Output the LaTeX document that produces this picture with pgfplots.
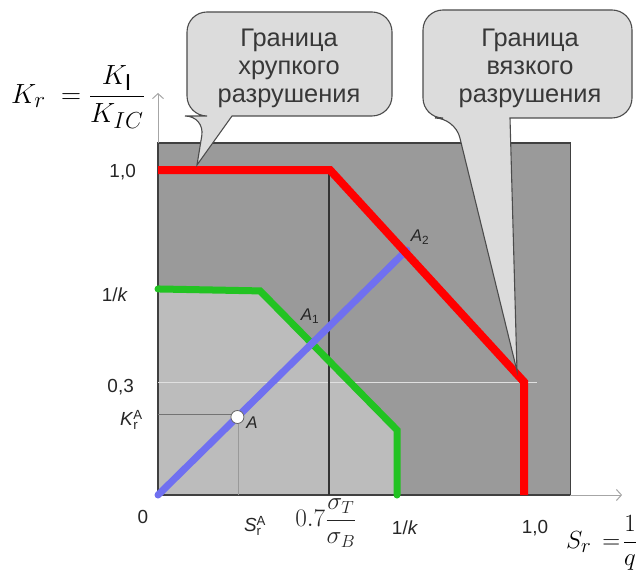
\documentclass[border=0pt]{standalone}
\usepackage{pgfplots}
\pgfplotsset{compat=1.18}
\usepackage{amsmath}
\usepackage{fontspec}
\setmainfont{Liberation Sans}
\usetikzlibrary{arrows.meta}

\definecolor{boxgray}{HTML}{9A9A9A}
\definecolor{safegray}{HTML}{BCBCBC}
\definecolor{calloutgray}{HTML}{DCDCDC}
\definecolor{redline}{HTML}{FF0000}
\definecolor{greenline}{HTML}{22C322}
\definecolor{blueline}{HTML}{7070F0}
\definecolor{textgray}{HTML}{262626}

\begin{document}
\begin{tikzpicture}
\begin{axis}[
    x=366bp, y=325bp,
    xmin=-0.4317, xmax=1.3087,
    ymin=-0.2492, ymax=1.5231,
    hide axis,
    clip=false,
]
% whole field
\addplot[draw=none, fill=boxgray] coordinates {(0,0) (0,1.083) (1.126,1.083) (1.126,0)} -- cycle;
% safe region under the green curve
\addplot[draw=none, fill=safegray] coordinates {(0,0) (0,0.634) (0.279,0.628) (0.653,0.2) (0.653,0)} -- cycle;
\addplot[draw=black!75, line width=1.2bp] coordinates {(0,0) (0,1.083) (1.126,1.083) (1.126,0)} -- cycle;

% level 0,3 and 0.7 sigma_T/sigma_B
\addplot[color=white!88!black, line width=1.2bp] coordinates {(0,0.345) (1.035,0.345)};
\addplot[color=black!80, line width=1.2bp] coordinates {(0.467,0) (0.467,1)};

% guides to point A
\addplot[color=black!55, line width=1bp] coordinates {(0,0.247) (0.217,0.247)};
\addplot[color=black!40, line width=1bp] coordinates {(0.219,0) (0.219,0.24)};

% axis arrows
\addplot[color=black!35, line width=1bp, -{Straight Barb[length=5bp,width=11bp]}] coordinates {(0,1.083) (0,1.237)};
\addplot[color=black!35, line width=1bp, -{Straight Barb[length=5bp,width=11bp]}] coordinates {(1.126,0) (1.268,0)};

% curves
\addplot[color=greenline, line width=7bp, line cap=round] coordinates {(0,0.634) (0.279,0.628) (0.653,0.2) (0.653,0)};
\addplot[color=blueline, line width=7bp, line cap=round] coordinates {(0,0) (0.680,0.754)};
\addplot[color=redline, line width=8bp] coordinates {(0,1) (0.470,1) (1.0,0.348) (1.0,0)};

% point A
\addplot[only marks, mark=*, mark size=6.5bp, mark options={fill=white, draw=black!60, line width=0.8bp}] coordinates {(0.217,0.24)};

\coordinate (tl) at (axis cs:-0.4317,1.5231);
\coordinate (br) at (axis cs:1.3087,-0.2492);
\end{axis}

\begin{scope}[shift={(tl)}, x=1bp, y=-1bp]
  % callouts
  \draw[fill=calloutgray, draw=black!70, line width=1.1bp]
    (232,116) [rounded corners=20bp] -- (392,116) -- (392,12) -- (187,12) -- (187,116) -- (205,116) [sharp corners] -- (197,165) -- cycle;
  \draw[fill=calloutgray, draw=black!70, line width=1.1bp]
    (510,118) [rounded corners=20bp] -- (632,118) -- (632,10) -- (423,10) -- (423,118) -- (455,118) [sharp corners] -- (517,371) -- cycle;
  \node[anchor=north, inner sep=0pt, align=center, text=black!78,
        font=\fontsize{25.5}{28}\selectfont] at (289,29) {Граница\\хрупкого\\разрушения};
  \node[anchor=north, inner sep=0pt, align=center, text=black!78,
        font=\fontsize{25.5}{28}\selectfont] at (530,29) {Граница\\вязкого\\разрушения};

  % axis titles
  \node[anchor=west, inner sep=0pt, scale=1.12, font=\fontsize{24.88}{30}\selectfont] at (11,97)
    {$K_r\;=\dfrac{K_{\mathrm{I}}}{K_{IC}}$};
  \node[anchor=west, inner sep=0pt, font=\fontsize{24.88}{30}\selectfont] at (566,543)
    {$S_r\,=\!\dfrac{1}{q}$};

  % tick labels
  \begin{scope}[every node/.style={inner sep=0pt, text=textgray, font=\fontsize{19}{23}\selectfont}]
    \node[anchor=east] at (136,172) {1,0};
    \node[anchor=east] at (128,295) {1/\textit{k}};
    \node[anchor=east] at (134,387) {0,3};
    \node[anchor=east] at (143,420) {\textit{K}$^{\text{A}}_{\text{r}}$};
    \node at (143,517) {0};
    \node at (255,526) {\textit{S}$^{\text{A}}_{\text{r}}$};
    \node[scale=1.22, font=\fontsize{20.74}{25}\selectfont] at (326,523) {$0.7\dfrac{\sigma_T}{\sigma_B}$};
    \node at (405,528) {1/\textit{k}};
    \node at (535,528) {1,0};
  \end{scope}

  % point labels
  \begin{scope}[every node/.style={inner sep=0pt, text=black!85, font=\fontsize{17}{20}\selectfont\itshape}]
    \node at (310,316) {A\textsubscript{\upshape 1}};
    \node at (420,237) {A\textsubscript{\upshape 2}};
    \node at (252,423) {A};
  \end{scope}
\end{scope}

\pgfresetboundingbox
\useasboundingbox (tl) rectangle (br);
\end{tikzpicture}
\end{document}
